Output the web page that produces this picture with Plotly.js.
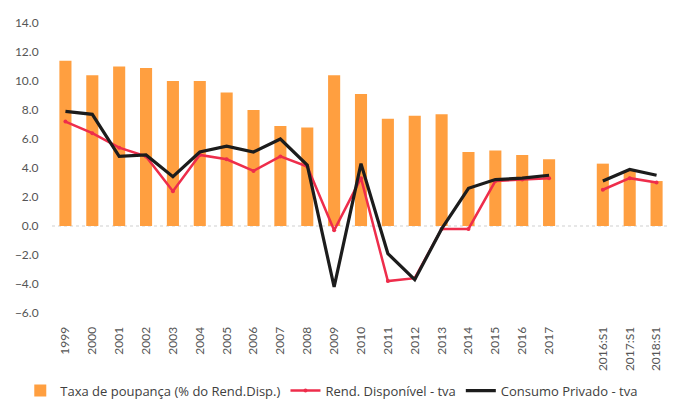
<!DOCTYPE html>
<html>
<head>
<meta charset="utf-8">
<script src="https://cdn.plot.ly/plotly-3.0.1.min.js"></script>
<style>
html,body{margin:0;padding:0;background:#fff;}
#chart{width:676px;height:403px;}
</style>
</head>
<body>
<div id="chart"></div>
<script>
const categories = ['1999','2000','2001','2002','2003','2004','2005','2006','2007','2008','2009','2010','2011','2012','2013','2014','2015','2016','2017',' ','2016:S1','2017:S1','2018:S1'];
const taxaPoupanca = [11.4,10.4,11.0,10.9,10.0,10.0,9.2,8.0,6.9,6.8,10.4,9.1,7.4,7.6,7.7,5.1,5.2,4.9,4.6,null,4.3,3.8,3.1];
const rendDisponivel = [7.2,6.4,5.4,4.8,2.4,4.9,4.6,3.8,4.8,4.1,-0.3,3.3,-3.8,-3.6,-0.2,-0.2,3.1,3.2,3.3,null,2.5,3.3,3.0];
const consumoPrivado = [7.9,7.7,4.8,4.9,3.4,5.1,5.5,5.1,6.0,4.2,-4.2,4.3,-1.9,-3.7,-0.2,2.6,3.2,3.3,3.5,null,3.1,3.9,3.5];
const yTicks = [-6,-4,-2,0,2,4,6,8,10,12,14];

const traces = [
  {type:'bar', x:categories, y:taxaPoupanca, name:'Taxa de poupança (% do Rend.Disp.)',
   marker:{color:'#FF9F40'}},
  {type:'scatter', mode:'lines+markers', x:categories, y:rendDisponivel, name:'Rend. Disponível - tva',
   line:{color:'#EE2D4B', width:2.5}, marker:{size:4, color:'#EE2D4B'}, connectgaps:false},
  {type:'scatter', mode:'lines', x:categories, y:consumoPrivado, name:'Consumo Privado - tva',
   line:{color:'#1c1c1c', width:3.2}, connectgaps:false}
];

const layout = {
  width:676, height:403,
  margin:{l:52, r:6, t:23, b:90, autoexpand:false},
  paper_bgcolor:'#fff', plot_bgcolor:'#fff',
  font:{family:'Lato, "Open Sans", sans-serif', size:12, color:'#555'},
  bargap:0.55,
  showlegend:true,
  legend:{orientation:'h', xref:'container', x:0.03, xanchor:'left', yref:'container', y:0.068, yanchor:'top',
    itemwidth:30,
    font:{family:'"Open Sans", sans-serif', size:13, color:'#404040'}, traceorder:'normal'},
  xaxis:{type:'category', range:[-0.5, categories.length-0.5], tickangle:-90, showgrid:false, zeroline:false, showline:false, automargin:false,
    ticks:'outside', ticklen:8, tickcolor:'rgba(0,0,0,0)',
    tickfont:{size:12, color:'#555'}, fixedrange:true},
  yaxis:{range:[-6,14], tickvals:yTicks, tickformat:'.1f', showgrid:false, zeroline:false, automargin:false,
    showline:false, ticks:'outside', ticklen:10, tickcolor:'rgba(0,0,0,0)',
    tickfont:{size:12, color:'#555'}, fixedrange:true},
  shapes:[{type:'line', xref:'paper', x0:0, x1:1, yref:'y', y0:0, y1:0, layer:'below',
    line:{color:'#cfcfcf', width:1, dash:'dot'}}]
};

Plotly.newPlot('chart', traces, layout, {displayModeBar:false, staticPlot:true});
</script>
</body>
</html>
